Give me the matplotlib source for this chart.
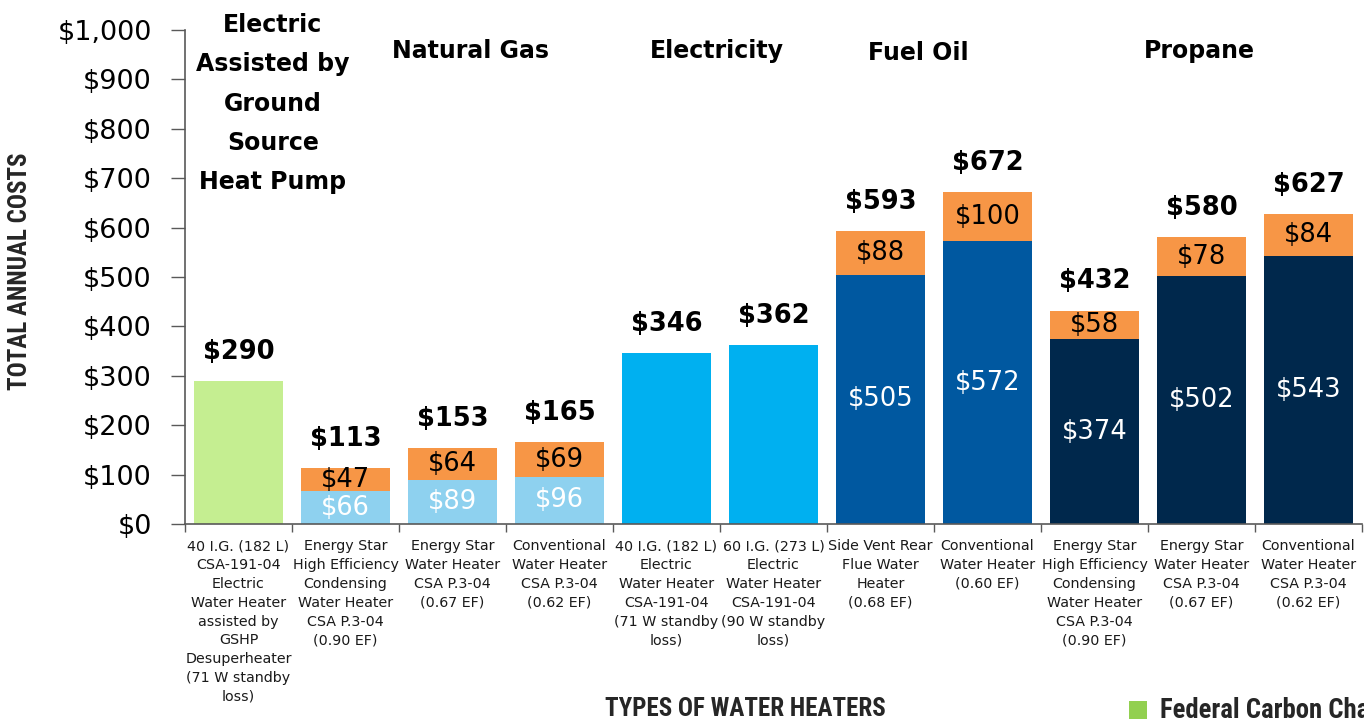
import matplotlib
matplotlib.use("Agg")
import matplotlib.pyplot as plt
from matplotlib.patches import Rectangle
import matplotlib.font_manager as fm

# ---------------- data ----------------
tick_labels = [
    "40 I.G. (182 L)\nCSA-191-04\nElectric\nWater Heater\nassisted by\nGSHP\nDesuperheater\n(71 W standby\nloss)",
    "Energy Star\nHigh Efficiency\nCondensing\nWater Heater\nCSA P.3-04\n(0.90 EF)",
    "Energy Star\nWater Heater\nCSA P.3-04\n(0.67 EF)",
    "Conventional\nWater Heater\nCSA P.3-04\n(0.62 EF)",
    "40 I.G. (182 L)\nElectric\nWater Heater\nCSA-191-04\n(71 W standby\nloss)",
    "60 I.G. (273 L)\nElectric\nWater Heater\nCSA-191-04\n(90 W standby\nloss)",
    "Side Vent Rear\nFlue Water\nHeater\n(0.68 EF)",
    "Conventional\nWater Heater\n(0.60 EF)",
    "Energy Star\nHigh Efficiency\nCondensing\nWater Heater\nCSA P.3-04\n(0.90 EF)",
    "Energy Star\nWater Heater\nCSA P.3-04\n(0.67 EF)",
    "Conventional\nWater Heater\nCSA P.3-04\n(0.62 EF)",
]
base_costs = [290, 66, 89, 96, 346, 362, 505, 572, 374, 502, 543]
carbon_costs = [0, 47, 64, 69, 0, 0, 88, 100, 58, 78, 84]
show_base_label = [False, True, True, True, False, False, True, True, True, True, True]
bar_colors = ["#c5ee91", "#8ed1ef", "#8ed1ef", "#8ed1ef", "#00b0f0", "#00b0f0",
              "#0058a0", "#0058a0", "#00284c", "#00284c", "#00284c"]
carbon_color = "#f79646"

group_titles = ["Electric\nAssisted by\nGround\nSource\nHeat Pump", "Natural Gas",
                "Electricity", "Fuel Oil", "Propane"]
group_title_x = [0.32, 2.17, 4.47, 6.35, 8.98]
group_title_y = [851, 958, 958, 953, 958]

y_ticks = [0, 100, 200, 300, 400, 500, 600, 700, 800, 900, 1000]

# ---------------- fonts ----------------
avail = {f.name for f in fm.fontManager.ttflist}
main_font = "DejaVu Sans"
cond_font = None
for cand in ["Roboto Condensed", "Liberation Sans Narrow", "Open Sans Condensed", "Roboto"]:
    if cand in avail:
        cond_font = cand
        break
if cond_font is None:
    cond_font = "DejaVu Sans"
plt.rcParams["font.family"] = [main_font]

W, H = 1364, 722
fig = plt.figure(figsize=(W / 100, H / 100), dpi=100)
ax = fig.add_axes([185 / W, 1 - 524 / H, (1362 - 185) / W, (524 - 30) / H])

x = list(range(len(base_costs)))
width = 0.83
ax.bar(x, base_costs, width=width, color=bar_colors, zorder=2)
ax.bar(x, carbon_costs, width=width, bottom=base_costs, color=carbon_color, zorder=2)

val_fs = 18.5
totals = [b + c for b, c in zip(base_costs, carbon_costs)]
for i in x:
    ax.annotate(f"${totals[i]}", (i, totals[i]), xytext=(0, 21), textcoords="offset points",
                ha="center", va="center", fontsize=val_fs, fontweight="bold", color="black")
    if carbon_costs[i] > 0:
        ax.text(i, base_costs[i] + carbon_costs[i] / 2, f"${carbon_costs[i]}",
                ha="center", va="center", fontsize=val_fs, color="black", zorder=3)
    if show_base_label[i]:
        ax.text(i, base_costs[i] / 2, f"${base_costs[i]}",
                ha="center", va="center", fontsize=val_fs, color="white", zorder=3)

for t, gx, gy in zip(group_titles, group_title_x, group_title_y):
    ax.text(gx, gy, t, ha="center", va="center", fontsize=17, fontweight="bold",
            linespacing=1.8, color="black")

ax.set_xlim(-0.5, len(x) - 0.5)
ax.set_ylim(0, 1000)
ax.set_yticks(y_ticks)
ax.set_yticklabels([f"${v:,}" for v in y_ticks], fontsize=19.5)
ax.tick_params(axis="y", length=10, width=1, color="#595959", pad=14)

ax.set_xticks(x)
ax.set_xticklabels(tick_labels, fontsize=10.3, linespacing=1.44, color="#1a1a1a")
ax.tick_params(axis="x", which="major", length=0, pad=11)
ax.set_xticks([i - 0.5 for i in range(len(x) + 1)], minor=True)
ax.tick_params(axis="x", which="minor", length=6, width=1, color="#595959")

for s in ["top", "right"]:
    ax.spines[s].set_visible(False)
for s in ["left", "bottom"]:
    ax.spines[s].set_color("#595959")
    ax.spines[s].set_linewidth(1.2)

fig.text(20 / W, 1 - 271 / H, "TOTAL ANNUAL COSTS", rotation=90, ha="center", va="center",
         fontsize=18, fontweight="bold", color="#262626", family=[cond_font])
fig.text(745 / W, 1 - 709 / H, "TYPES OF WATER HEATERS", ha="center", va="center",
         fontsize=18, fontweight="bold", color="#262626", family=[cond_font])

fig.patches.append(Rectangle((1129 / W, 1 - 719 / H), 18 / W, 18 / H, transform=fig.transFigure,
                             facecolor="#92d050", edgecolor="none"))
fig.text(1160 / W, 1 - 710 / H, "Federal Carbon Charge", ha="left", va="center",
         fontsize=19.3, fontweight="bold", color="#262626", family=[cond_font])

fig.savefig("out.png", dpi=100)
